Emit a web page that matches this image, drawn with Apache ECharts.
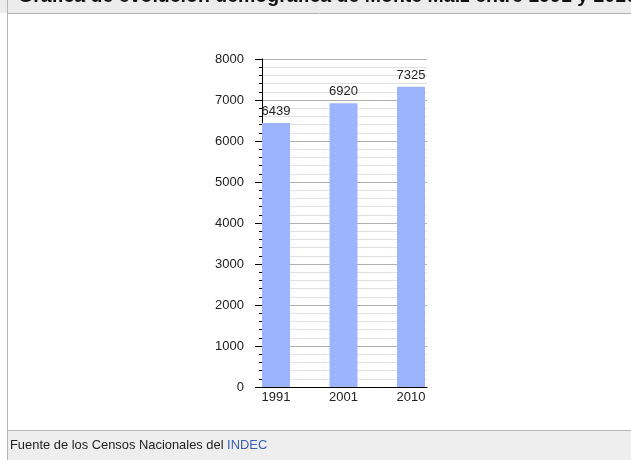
<!DOCTYPE html>
<html>
<head>
<meta charset="utf-8">
<script src="https://cdn.jsdelivr.net/npm/echarts@6/dist/echarts.min.js"></script>
<style>
html,body{margin:0;padding:0;background:#fff;}
#c{width:631px;height:460px;}
</style>
</head>
<body>
<div id="c"></div>
<script>
var years = ['1991', '2001', '2010'];
var population = [6439, 6920, 7325];
var titleText = 'Gráfica de evolución demográfica de Monte Maíz entre 1991 y 2010';
var sourceText = 'Fuente de los Censos Nacionales del ';
var sourceLink = 'INDEC';

var chart = echarts.init(document.getElementById('c'));
var font = 'Liberation Sans, Arial, sans-serif';
chart.setOption({
  animation: false,
  graphic: [
    {type: 'rect', shape: {x: 0, y: 0, width: 631, height: 13}, style: {fill: '#ececec'}, z: 0},
    {type: 'line', shape: {x1: 8, y1: 13.5, x2: 631, y2: 13.5}, style: {stroke: '#b4b4b4', lineWidth: 1}},
    {type: 'text', left: 18, top: -13, style: {text: titleText, font: 'bold 19.5px ' + font, fill: '#111'}},
    {type: 'rect', shape: {x: 8, y: 430, width: 623, height: 30}, style: {fill: '#eeeeee'}, z: 0},
    {type: 'line', shape: {x1: 8, y1: 430.5, x2: 631, y2: 430.5}, style: {stroke: '#b4b4b4', lineWidth: 1}},
    {type: 'line', shape: {x1: 7.5, y1: 0, x2: 7.5, y2: 460}, style: {stroke: '#b4b4b4', lineWidth: 1}},
    {type: 'text', left: 10, top: 439, style: {rich: {a: {fill: '#222'}, b: {fill: '#3b5fb5'}}, text: '{a|' + sourceText + '}{b|' + sourceLink + '}', font: '12.9px ' + font}}
  ],
  grid: [
    {left: 262, top: 59, width: 165, height: 328},
    {left: 276, top: 59, width: 135, height: 328}
  ],
  xAxis: [
    {type: 'category', gridIndex: 0, data: years, axisLine: {lineStyle: {color: '#000', width: 1}}, axisTick: {show: false}, axisLabel: {show: false}},
    {type: 'category', gridIndex: 1, data: years, boundaryGap: false, axisLine: {show: false}, axisTick: {show: false},
     axisLabel: {color: '#222', fontSize: 13, fontFamily: font, margin: 4}}
  ],
  yAxis: [
    {type: 'value', gridIndex: 0, min: 0, max: 8000, interval: 1000,
     axisLine: {show: true, lineStyle: {color: '#000', width: 1}},
     axisTick: {show: true, length: 7, lineStyle: {color: '#000'}},
     minorTick: {show: true, splitNumber: 5, length: 3, lineStyle: {color: '#000'}},
     splitLine: {show: true, lineStyle: {color: '#b0b0b0'}},
     minorSplitLine: {show: true, lineStyle: {color: '#e0e0e0'}},
     axisLabel: {color: '#222', fontSize: 13, fontFamily: font, margin: 18, formatter: function (v) { return String(v); }}},
    {type: 'value', gridIndex: 1, min: 0, max: 8000, interval: 1000, show: false, splitLine: {show: false}}
  ],
  series: [{
    type: 'bar', xAxisIndex: 1, yAxisIndex: 1, data: population, barWidth: 28,
    itemStyle: {color: '#9bb4fb'},
    label: {show: true, position: 'top', distance: 5, color: '#222', fontSize: 13, fontFamily: font}
  }]
});
</script>
</body>
</html>
